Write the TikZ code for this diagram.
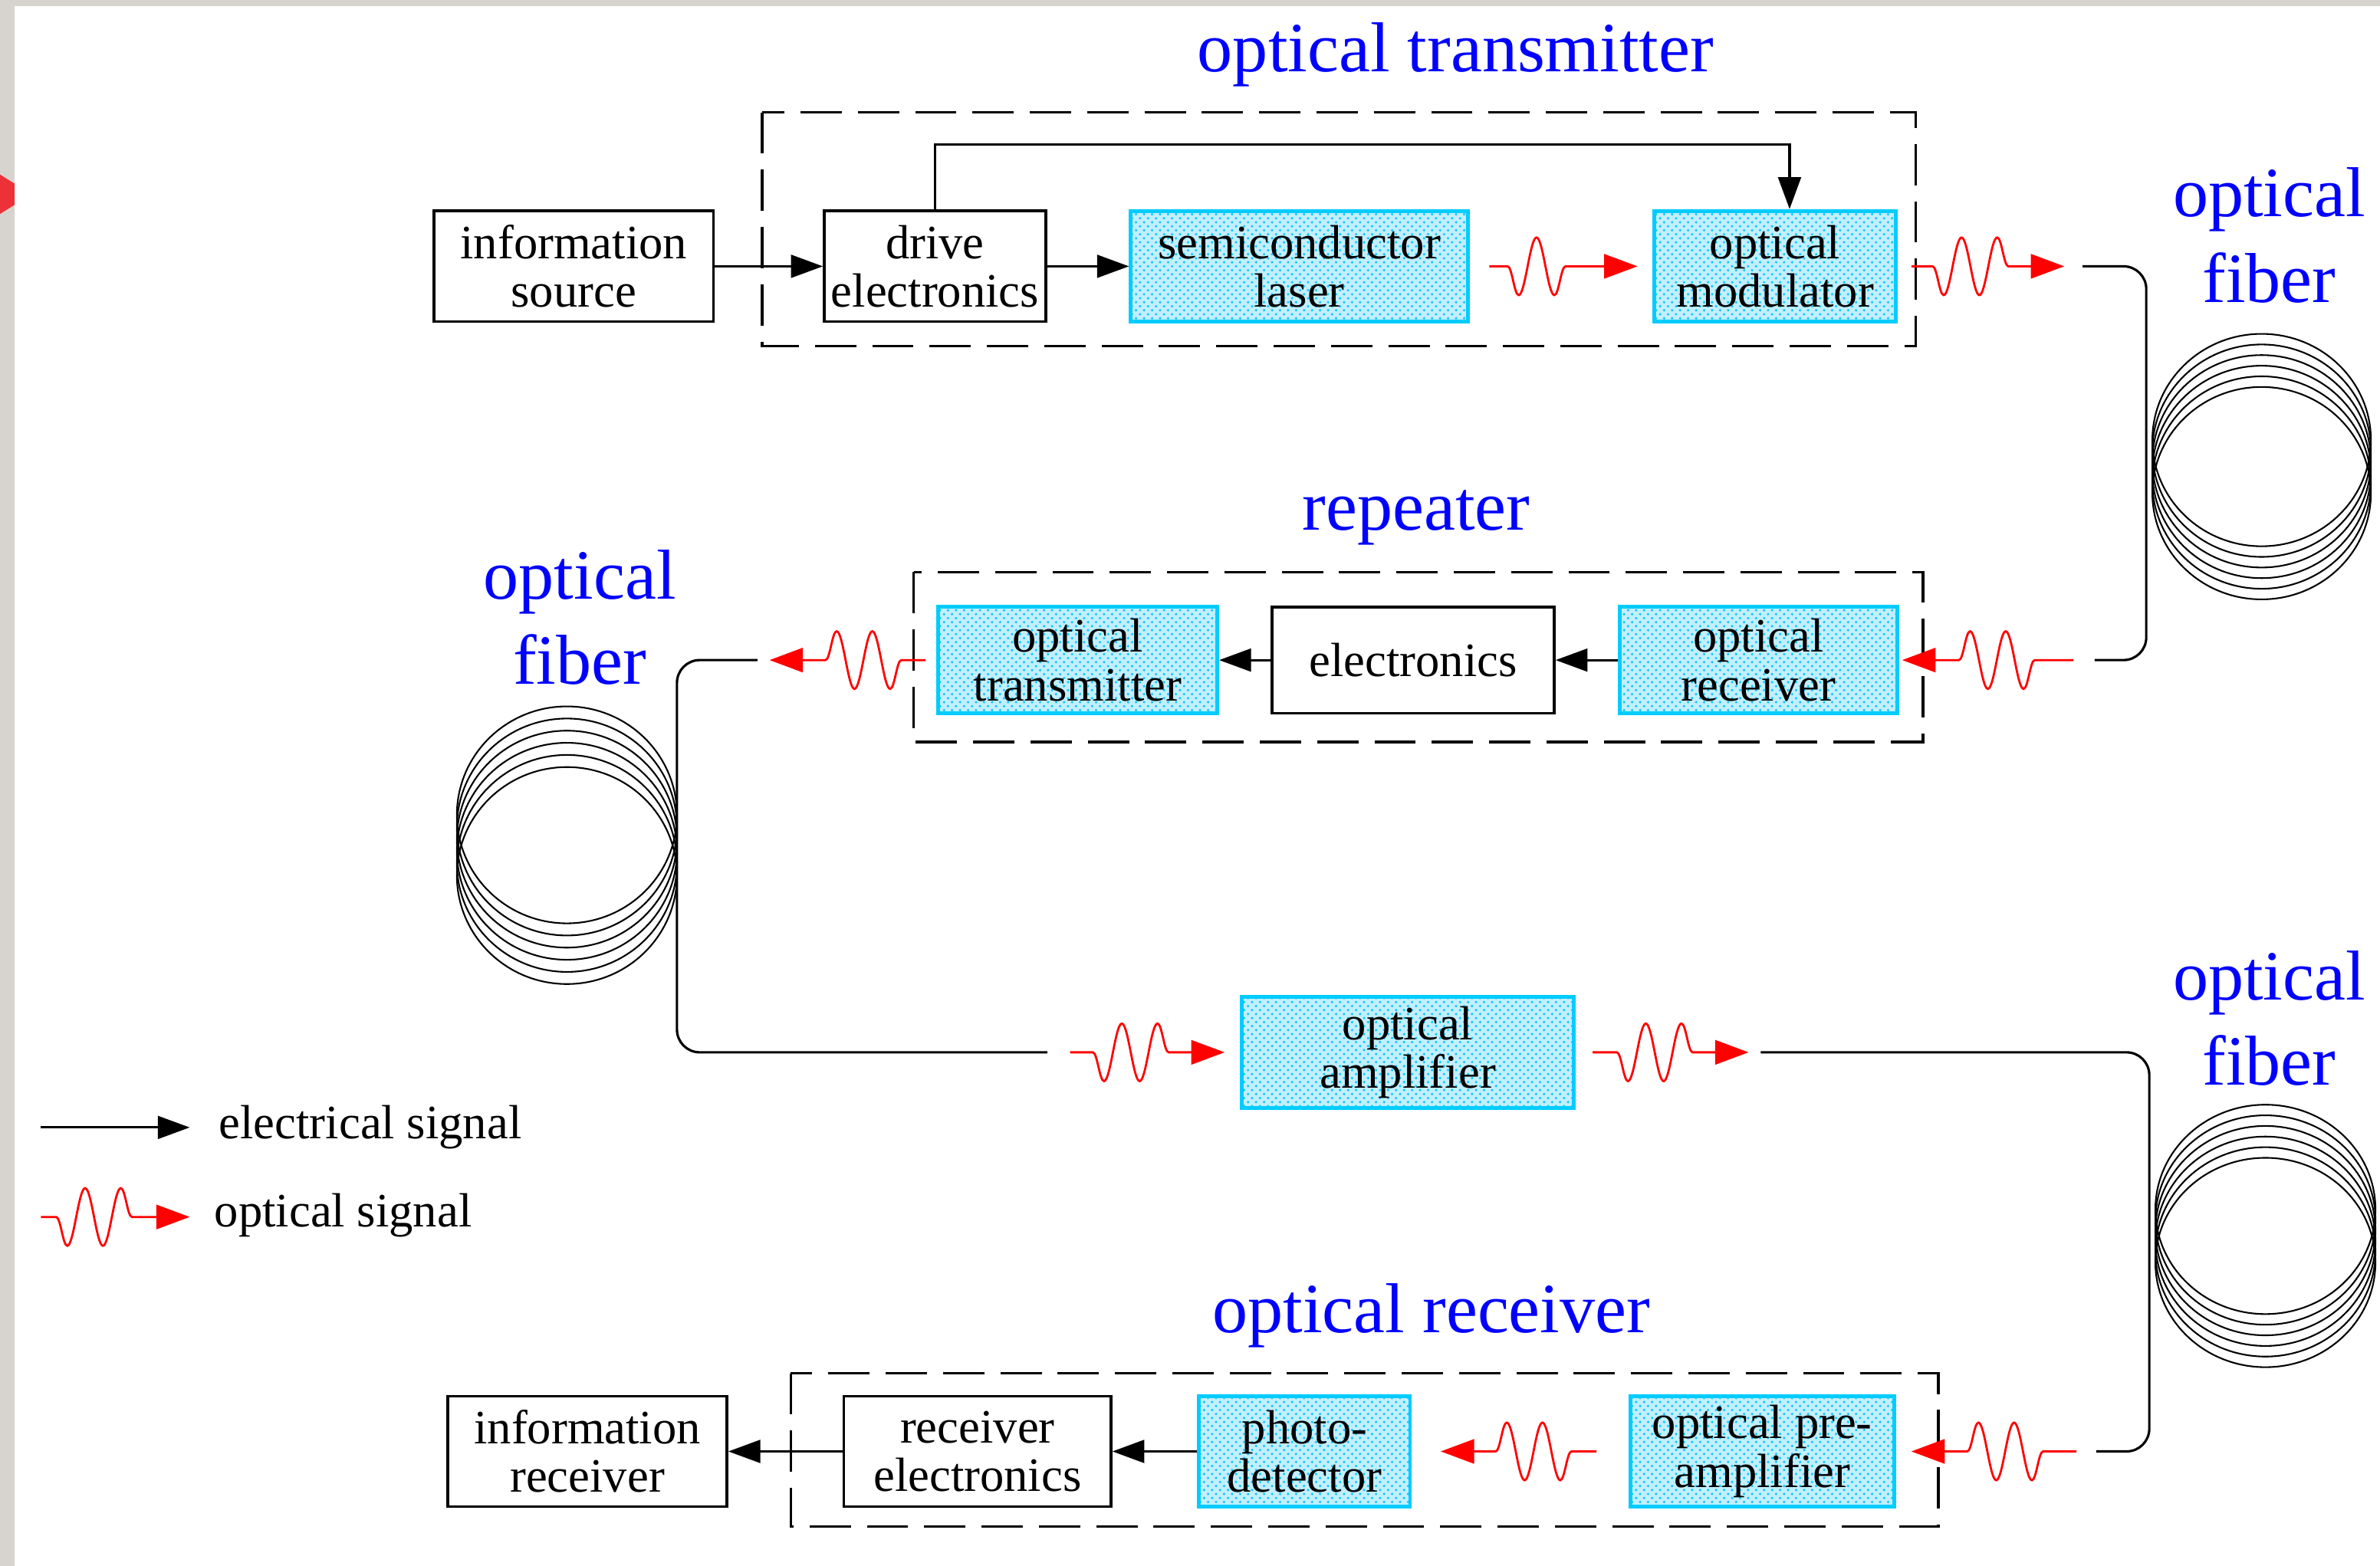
\documentclass[tikz,border=0pt]{standalone}
\usepackage{fontspec}
\setmainfont{Liberation Serif}
\usetikzlibrary{arrows.meta,decorations.pathmorphing,patterns,calc}

\definecolor{boxcyan}{RGB}{0,204,255}
\definecolor{boxfill}{RGB}{196,238,252}
\definecolor{framegrey}{RGB}{215,212,207}
\definecolor{markred}{RGB}{236,50,56}

\newcommand{\boxfont}{\fontsize{18}{18.2}\selectfont}
\newcommand{\titlefont}{\fontsize{26.5}{32}\selectfont}

\tikzset{
  ebox/.style={draw, line width=1pt, fill=white, align=center, inner sep=0pt,
    minimum height=1.46cm, font=\boxfont},
  obox/.style={draw=boxcyan, line width=1.4pt, preaction={fill=boxfill},
    pattern=crosshatch dots, pattern color=boxcyan, align=center, inner sep=0pt,
    minimum height=1.46cm, font=\boxfont},
  group/.style={line width=1pt, dash pattern=on 15.5pt off 6pt},
  title/.style={blue, align=center, font=\titlefont},
  elsig/.style={line width=0.9pt, -{Triangle[length=0.42cm, width=0.3cm]}},
  opsig/.style={red, line width=0.8pt, -{Triangle[length=0.44cm, width=0.32cm]},
    decorate, decoration={snake, amplitude=0.38cm, segment length=0.47cm,
      pre length=#1, post length=0.72cm}},
  opsig/.default=0.24cm,
  fiber/.style={line width=0.9pt, rounded corners=0.3cm},
  coil/.style={line width=0.6pt},
}

\begin{document}
\begin{tikzpicture}[x=0.02cm, y=-0.02cm]
  \useasboundingbox (0,0) rectangle (1568,1032);
  \fill[white] (0,0) rectangle (1568,1032);
  \fill[framegrey] (0,0) rectangle (9.6,1032);
  \fill[framegrey] (0,0) rectangle (1568,4.2);
  \fill[markred] (0,115) -- (9.6,121) -- (9.6,135) -- (0,141) -- cycle;

  % dashed groups
  \draw[group] (502,74) rectangle (1262,228);
  \draw[group] (602,377) rectangle (1267,489);
  \draw[group] (521,905) rectangle (1277,1006);

  \node[title] (ttx) at (959,36) {optical transmitter};
  \node[title] (trep) at (933,341) {repeater};
  \node[title] (trx) at (943,867) {optical receiver};
  \node[title] (tfib1) at (1495,155) {optical\\fiber};
  \node[title] (tfib2) at (382,407) {optical\\fiber};
  \node[title] (tfib3) at (1495,671) {optical\\fiber};

  % transmitter
  \node[ebox, minimum width=3.68cm] (src) at (378,175.5) {information\\source};
  \node[ebox, minimum width=2.92cm] (drive) at (616,175.5) {drive\\electronics};
  \node[obox, minimum width=4.44cm] (laser) at (856,175.5) {semiconductor\\laser};
  \node[obox, minimum width=3.18cm] (modul) at (1169.5,175.5) {optical\\modulator};

  % repeater
  \node[obox, minimum width=3.68cm, minimum height=1.4cm] (rtx) at (710,435) {optical\\transmitter};
  \node[ebox, minimum width=3.72cm, minimum height=1.4cm] (relec) at (931,435) {electronics};
  \node[obox, minimum width=3.66cm, minimum height=1.4cm] (rrx) at (1158.5,435) {optical\\receiver};

  \node[obox, minimum width=4.38cm] (amp) at (927.5,693.5) {optical\\amplifier};

  % receiver
  \node[obox, minimum width=3.48cm] (preamp) at (1161,956.5) {optical pre-\\amplifier};
  \node[obox, minimum width=2.78cm] (pd) at (859.5,956.5) {photo-\\detector};
  \node[ebox, minimum width=3.52cm] (rxelec) at (644,956.5) {receiver\\electronics};
  \node[ebox, minimum width=3.68cm] (inforx) at (387,956.5) {information\\receiver};

  % electrical signals
  \coordinate (fbk) at (1179,95);
  \draw[elsig] (src.east) -- (drive.west);
  \draw[elsig] (drive.east) -- (laser.west);
  \draw[elsig] (drive.north) |- (fbk) -- (fbk |- modul.north);
  \draw[elsig] (relec.west) -- (rtx.east);
  \draw[elsig] (rrx.west) -- (relec.east);
  \draw[elsig] (pd.west) -- (rxelec.east);
  \draw[elsig] (rxelec.west) -- (inforx.east);

  % fiber runs
  \coordinate (fa1) at (1372,175.5);
  \coordinate (fa2) at (1380,435);
  \coordinate (fb1) at (499,435);
  \coordinate (fb2) at (690,693.5);
  \coordinate (fc1) at (1160,693.5);
  \coordinate (fc2) at (1381,956.5);
  \draw[fiber] (fa1) -- ++(42,0) |- (fa2);
  \draw[fiber] (fb1) -- ++(-53,0) |- (fb2);
  \draw[fiber] (fc1) -- ++(256,0) |- (fc2);

  % optical signals
  \draw[opsig, decoration={mirror}] ($(laser.east)+(13,0)$) -- ($(modul.west)+(-10,0)$);
  \draw[opsig=0.28cm, decoration={mirror}] ($(modul.east)+(9,0)$) -- ($(fa1)+(-12,0)$);
  \draw[opsig=0.51cm] ($(fa2)+(-14,0)$) -- ($(rrx.east)+(2,0)$);
  \draw[opsig=0.32cm] ($(rtx.west)+(-7,0)$) -- ($(fb1)+(8,0)$);
  \draw[opsig=0.3cm, decoration={mirror}] ($(fb2)+(15,0)$) -- ($(amp.west)+(-10,0)$);
  \draw[opsig=0.32cm, decoration={mirror}] ($(amp.east)+(11,0)$) -- ($(fc1)+(-8,0)$);
  \draw[opsig=0.44cm] ($(fc2)+(-13,0)$) -- ($(preamp.east)+(10,0)$);
  \draw[opsig=0.33cm] ($(preamp.west)+(-21,0)$) -- ($(pd.east)+(19,0)$);

  % fiber coils
  \foreach \k in {0,...,5} {
    \draw[coil] (1490,{290+7*\k}) ellipse [x radius=1.44cm, y radius=1.4cm];
    \draw[coil] (373.5,{537+8*\k}) ellipse [x radius=1.45cm, y radius=1.43cm];
    \draw[coil] (1492.5,{797+7*\k}) ellipse [x radius=1.45cm, y radius=1.38cm];
  }

  % legend
  \coordinate (lgel0) at (27,743);
  \coordinate (lgel1) at (125,743);
  \coordinate (lgop0) at (27,802);
  \coordinate (lgop1) at (125,802);
  \draw[elsig] (lgel0) -- (lgel1);
  \draw[opsig=0.2cm, decoration={mirror}] (lgop0) -- (lgop1);
  \node[anchor=west, inner sep=0pt, font=\boxfont] (lgeltxt) at (144,743) {electrical signal};
  \node[anchor=west, inner sep=0pt, font=\boxfont] (lgoptxt) at (141,801) {optical signal};
\end{tikzpicture}
\end{document}
